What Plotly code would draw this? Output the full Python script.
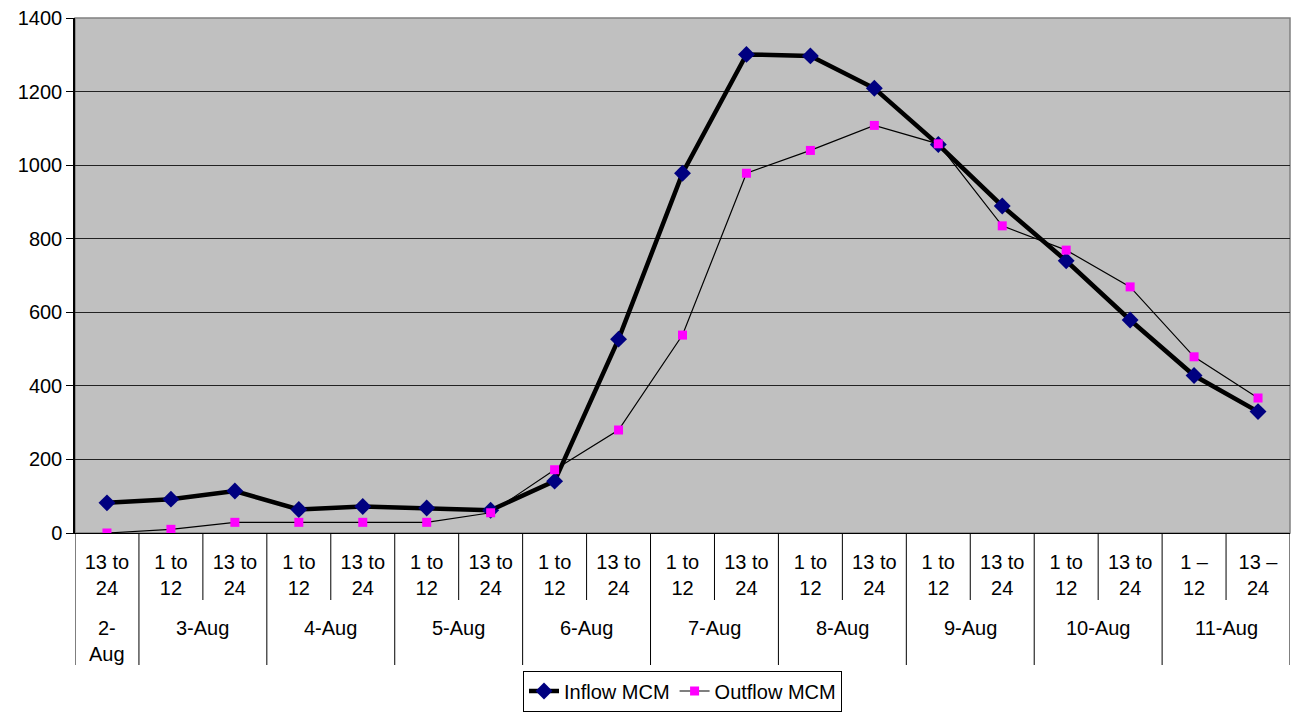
import plotly.graph_objects as go

# 12-hour periods along the x axis and the day each one belongs to
periods = ["13 to<br>24", "1 to<br>12", "13 to<br>24", "1 to<br>12", "13 to<br>24",
           "1 to<br>12", "13 to<br>24", "1 to<br>12", "13 to<br>24", "1 to<br>12",
           "13 to<br>24", "1 to<br>12", "13 to<br>24", "1 to<br>12", "13 to<br>24",
           "1 to<br>12", "13 to<br>24", "1 \u2013<br>12", "13 \u2013<br>24"]
day_labels = ["2-<br>Aug", "3-Aug", "4-Aug", "5-Aug", "6-Aug", "7-Aug",
              "8-Aug", "9-Aug", "10-Aug", "11-Aug"]
day_sizes = [1, 2, 2, 2, 2, 2, 2, 2, 2, 2]  # number of periods per day

# Flow volumes (MCM)
inflow = [82, 92, 114, 64, 72, 68, 62, 141, 527, 978, 1301, 1297, 1209,
          1056, 889, 740, 579, 428, 330]
outflow = [0, 10, 29, 29, 29, 29, 55, 172, 280, 538, 978, 1040, 1108,
           1058, 835, 769, 669, 479, 367]

FONT = "Liberation Sans, Arial, sans-serif"
W, H = 1296, 713
PLOT_H = H - 18 - 180            # plot area height in px
SHORT = -67 / PLOT_H             # period divider depth (paper units)
LONG = -132 / PLOT_H             # day divider depth (paper units)

idx = list(range(len(periods)))

fig = go.Figure()
fig.add_trace(go.Scatter(
    x=idx, y=inflow, name="Inflow MCM", mode="lines+markers",
    line=dict(color="black", width=4.5),
    marker=dict(symbol="diamond", size=13, color="#000080"),
))
fig.add_trace(go.Scatter(
    x=idx, y=outflow, name="Outflow MCM", mode="lines+markers",
    line=dict(color="black", width=1.2),
    marker=dict(symbol="square", size=9, color="#FF00FF"),
))

shapes = []
# grey frame on top/right of the plot area
shapes.append(dict(type="rect", xref="paper", yref="paper", x0=0, x1=1, y0=0, y1=1,
                   line=dict(color="#808080", width=1.5), layer="below"))

# category table below the axis: day dividers (long) and period dividers (short)
start = 0
day_starts = []
for n in day_sizes:
    day_starts.append(start)
    start += n
shapes.append(dict(type="line", xref="x", yref="paper", x0=-0.5, x1=-0.5,
                   y0=0, y1=LONG, line=dict(color="black", width=1)))
annotations = []
for label, s, n in zip(day_labels, day_starts, day_sizes):
    end = s + n - 0.5
    shapes.append(dict(type="line", xref="x", yref="paper", x0=end, x1=end,
                       y0=0, y1=LONG, line=dict(color="black", width=1)))
    for k in range(1, n):
        b = s + k - 0.5
        shapes.append(dict(type="line", xref="x", yref="paper", x0=b, x1=b,
                           y0=0, y1=SHORT, line=dict(color="black", width=1)))
    annotations.append(dict(
        text=label, xref="x", yref="paper", x=s + (n - 1) / 2,
        y=-82 / PLOT_H, yanchor="top", xanchor="center", showarrow=False,
        font=dict(family=FONT, size=20, color="black"),
    ))

fig.update_layout(
    width=W, height=H,
    margin=dict(l=75, r=6, t=18, b=180, autoexpand=False),
    paper_bgcolor="white",
    plot_bgcolor="#C0C0C0",
    font=dict(family=FONT, size=20, color="black"),
    shapes=shapes,
    annotations=annotations,
    showlegend=True,
    legend=dict(
        orientation="h", x=0.5, xanchor="center",
        yref="container", y=1.5 / H, yanchor="bottom",
        bordercolor="black", borderwidth=1, bgcolor="white",
        font=dict(size=20), tracegroupgap=0,
    ),
    xaxis=dict(
        range=[-0.5, len(periods) - 0.5],
        tickmode="array", tickvals=idx, ticktext=periods,
        showline=True, linecolor="black", linewidth=1,
        ticks="outside", ticklen=11, tickcolor="rgba(0,0,0,0)",
        showgrid=False, zeroline=False, tickfont=dict(size=20),
        automargin=False,
    ),
    yaxis=dict(
        range=[0, 1400], dtick=200, tick0=0,
        showline=True, linecolor="black", linewidth=1.5,
        ticks="outside", ticklen=7, tickcolor="black",
        showgrid=True, gridcolor="#222222", gridwidth=1,
        zeroline=False, tickfont=dict(size=20), automargin=False,
    ),
)

fig.write_html("out.html")
